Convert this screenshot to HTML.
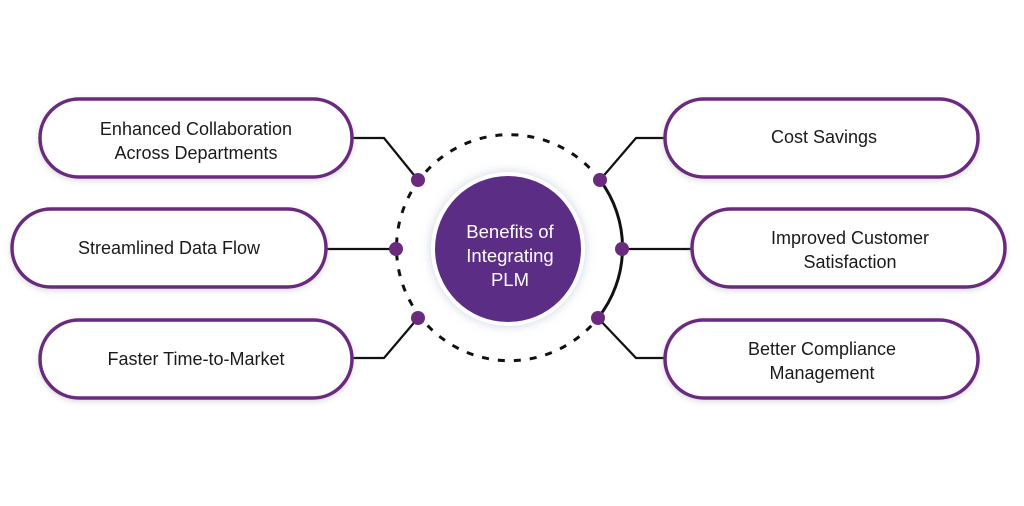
<!DOCTYPE html>
<html><head><style>
body{margin:0;background:#fff;width:1024px;height:501px;overflow:hidden}
svg text{font-family:"Liberation Sans",sans-serif}
</style></head><body>
<svg width="1024" height="501" viewBox="0 0 1024 501">
<defs>
<filter id="sh" x="-30%" y="-30%" width="160%" height="160%"><feDropShadow dx="0" dy="0" stdDeviation="5" flood-color="#9aa6c8" flood-opacity="0.5"/></filter>
<filter id="ps" x="-10%" y="-20%" width="120%" height="140%"><feDropShadow dx="0" dy="2" stdDeviation="3" flood-color="#999" flood-opacity="0.35"/></filter>
</defs>
<path d="M600 180 A113 113 0 1 0 598 318" fill="none" stroke="#111" stroke-width="3" stroke-dasharray="7 9"/>
<path d="M600 180 A113 113 0 0 1 598 318" fill="none" stroke="#111" stroke-width="3"/>
<g stroke="#111" stroke-width="2.2" fill="none">
<polyline points="352,138 384,138 418,180"/>
<polyline points="326,249 396,249"/>
<polyline points="352,358 384,358 418,318"/>
<polyline points="665,138 636,138 600,180"/>
<polyline points="692,249 622,249"/>
<polyline points="665,358 636,358 598,318"/>
</g>
<g fill="#6a2a7e">
<circle cx="418" cy="180" r="7"/><circle cx="396" cy="249" r="7"/><circle cx="418" cy="318" r="7"/>
<circle cx="600" cy="180" r="7"/><circle cx="622" cy="249" r="7"/><circle cx="598" cy="318" r="7"/>
</g>
<circle cx="508" cy="249" r="77" fill="#fff" filter="url(#sh)"/>
<circle cx="508" cy="249" r="73" fill="#5c2d84"/>
<g fill="#fff" font-size="18.5" text-anchor="middle">
<text x="510" y="238">Benefits of</text>
<text x="510" y="262">Integrating</text>
<text x="510" y="286">PLM</text>
</g>
<g fill="#fff" stroke="#6a2a7e" stroke-width="3.5" filter="url(#ps)">
<rect x="40" y="99" width="312" height="78" rx="39"/>
<rect x="12" y="209" width="314" height="78" rx="39"/>
<rect x="40" y="320" width="312" height="78" rx="39"/>
<rect x="665" y="99" width="313" height="78" rx="39"/>
<rect x="692" y="209" width="313" height="78" rx="39"/>
<rect x="665" y="320" width="313" height="78" rx="39"/>
</g>
<g fill="#1a1a1a" font-size="18" text-anchor="middle">
<text x="196" y="135">Enhanced Collaboration</text>
<text x="196" y="159">Across Departments</text>
<text x="169" y="254">Streamlined Data Flow</text>
<text x="196" y="365">Faster Time-to-Market</text>
<text x="824" y="143">Cost Savings</text>
<text x="850" y="244">Improved Customer</text>
<text x="850" y="268">Satisfaction</text>
<text x="822" y="355">Better Compliance</text>
<text x="822" y="379">Management</text>
</g>
</svg>
</body></html>
